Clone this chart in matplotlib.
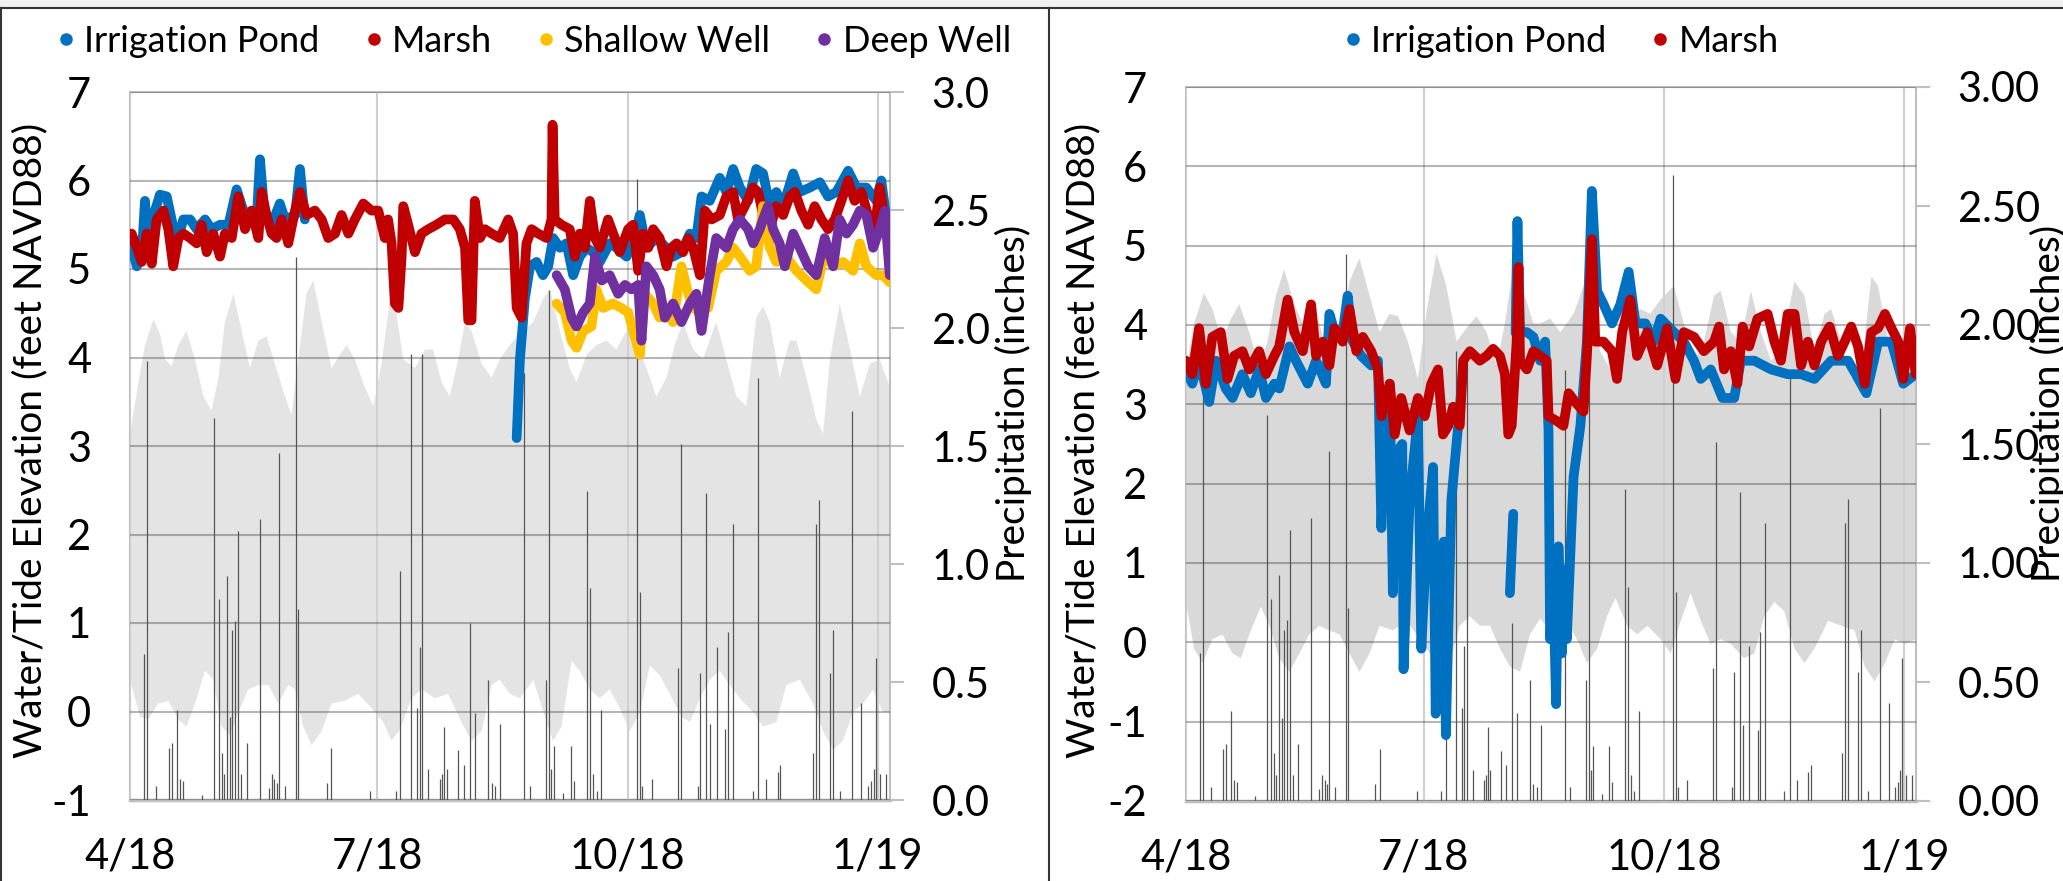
import numpy as np
import matplotlib
matplotlib.use('Agg')
import matplotlib.pyplot as plt
import matplotlib.dates as mdates
from matplotlib.lines import Line2D
from matplotlib.patches import Rectangle
from matplotlib.ticker import FixedLocator, FuncFormatter, FormatStrFormatter

plt.rcParams['font.family'] = ['Lato', 'DejaVu Sans']
plt.rcParams['axes.unicode_minus'] = False

# ---- data: x values are days since 2018-04-01 ----
START = '2018-04-01'
X_END = 279.5
MONTHS = ['2018-04-01', '2018-07-01', '2018-10-01', '2019-01-01']

# precipitation (inches), same gauge in both panels
rain_day = [5.3, 6.4, 9.4, 14.3, 15.3, 17.4, 18.4, 19.6, 26.6, 31.0, 32.7, 33.7, 34.6, 35.7,
            36.6, 37.6, 38.6, 39.8, 40.8, 42.9, 47.9, 51.1, 52.1, 53.1, 54.0, 54.9, 57.0,
            61.2, 61.9, 72.3, 74.1, 88.3, 97.7, 99.4, 103.5, 105.5, 106.5, 107.5, 109.7,
            114.0, 114.8, 115.6, 116.5, 120.7, 122.7, 124.9, 126.8, 131.7, 133.0, 134.2,
            136.0, 145.0, 147.1, 153.0, 154.2, 155.0, 155.9, 159.3, 162.1, 163.2, 168.1,
            169.1, 170.3, 171.6, 173.3, 186.6, 187.5, 188.4, 191.8, 201.6, 202.8, 208.9,
            209.8, 212.0, 213.2, 215.7, 219.0, 219.9, 221.8, 229.1, 231.1, 234.0, 238.3,
            239.2, 251.2, 252.4, 253.4, 257.3, 258.6, 261.2, 265.7, 269.0, 271.4, 272.6,
            273.5, 274.2, 275.7, 278.1]
rain_in = [0.62, 1.86, 0.06, 0.22, 0.24, 0.38, 0.09, 0.08, 0.02, 1.62, 0.85, 0.20, 0.11, 0.95,
           0.35, 0.72, 0.76, 1.14, 0.11, 0.24, 1.19, 0.05, 0.11, 0.09, 0.07, 1.47, 0.06,
           2.30, 0.81, 0.07, 0.22, 0.04, 0.04, 0.97, 1.89, 0.39, 0.65, 1.89, 0.13,
           0.09, 0.11, 0.31, 0.13, 0.21, 0.15, 0.75, 0.37, 0.51, 0.07, 0.06,
           0.32, 1.81, 0.06, 0.51, 2.16, 0.13, 0.23, 0.03, 0.23, 0.08, 1.31,
           0.90, 0.11, 0.04, 0.38, 2.63, 0.88, 0.06, 0.09, 0.56, 1.51, 0.06,
           0.54, 1.30, 0.32, 0.65, 0.30, 0.71, 1.17, 0.04, 1.79, 0.09, 0.12,
           0.15, 0.20, 1.17, 1.27, 0.54, 0.72, 0.04, 1.65, 0.41, 0.06, 0.08,
           0.13, 0.60, 0.11, 0.11]

# left panel: tide range envelope (high / low)
tideL_hi_day = [0.0, 3.1, 5.5, 8.6, 11.0, 12.9, 15.3, 17.8, 20.8, 23.9, 27.0, 30.0, 32.5, 34.9,
                38.0, 41.1, 44.1, 47.2, 50.2, 53.3, 57.0, 59.4, 61.9, 64.9, 67.4, 70.5, 74.1,
                77.2, 79.7, 82.7, 86.4, 89.5, 92.5, 95.6, 97.4, 100.5, 104.8, 108.5, 111.5,
                114.6, 117.6, 120.7, 123.2, 125.6, 129.3, 133.0, 136.0, 139.7, 143.4, 148.3,
                151.9, 154.4, 158.1, 161.7, 164.2, 167.9, 171.5, 175.2, 178.9, 182.6, 186.2,
                189.9, 193.6, 197.3, 200.3, 203.4, 207.1, 210.7, 215.6, 219.3, 223.0, 226.7,
                230.3, 232.8, 235.3, 238.9, 242.6, 245.1, 248.8, 252.4, 254.9, 257.4, 261.0,
                264.1, 268.4, 272.1, 275.7, 279.5]
tideL_hi = [3.14, 3.72, 4.14, 4.43, 4.27, 3.98, 3.90, 4.14, 4.30, 3.98, 3.56, 3.40, 3.77, 4.40,
            4.72, 4.30, 3.88, 4.19, 4.24, 3.93, 3.56, 3.35, 3.98, 4.72, 4.87, 4.40, 3.88,
            4.03, 4.14, 3.98, 3.66, 3.45, 3.93, 4.66, 4.61, 3.98, 3.88, 4.09, 4.09,
            3.72, 3.56, 3.98, 4.40, 4.30, 3.93, 3.77, 3.98, 4.14, 4.27, 4.40,
            4.66, 4.77, 4.30, 3.88, 3.72, 4.03, 4.14, 4.19, 4.09, 4.30, 4.19,
            3.88, 3.56, 3.77, 4.14, 4.40, 4.09, 3.98, 4.40, 3.98, 3.56, 3.45,
            4.45, 4.58, 4.40, 3.77, 4.19, 4.19, 3.77, 3.30, 3.14, 3.98, 4.61,
            4.19, 3.56, 3.93, 3.98, 3.66]
tideL_lo_day = [0.0, 3.7, 6.7, 10.4, 14.1, 17.8, 20.8, 23.9, 27.6, 30.6, 33.7, 36.8, 39.8, 43.5,
                47.2, 50.9, 54.5, 58.2, 60.7, 63.7, 66.8, 70.5, 74.1, 79.0, 83.9, 88.8, 93.1,
                96.2, 99.3, 103.5, 107.2, 112.1, 117.0, 121.9, 125.6, 129.3, 133.0, 136.0,
                139.7, 143.4, 148.3, 153.2, 155.6, 158.7, 162.4, 165.4, 169.1, 172.8, 176.4,
                180.1, 183.8, 187.5, 191.2, 194.8, 198.5, 202.8, 205.9, 209.6, 213.2, 216.9,
                220.6, 224.3, 229.2, 232.8, 237.7, 241.4, 246.3, 251.2, 254.9, 258.6, 262.2,
                265.9, 269.6, 273.3, 276.9, 279.5]
tideL_lo = [0.36, -0.06, -0.09, 0.09, 0.12, -0.09, -0.17, 0.09, 0.46, 0.36, -0.17, -0.27, -0.01, 0.25,
            0.30, 0.30, 0.09, 0.30, 0.25, -0.17, -0.38, -0.22, 0.09, 0.12, 0.20, 0.04, -0.12,
            -0.33, -0.20, 0.15, 0.25, 0.15, 0.20, -0.12, -0.33, -0.22, 0.30, 0.36,
            0.20, 0.15, 0.36, -0.12, -0.33, -0.17, 0.57, 0.46, 0.25, 0.15, 0.25,
            0.04, -0.22, -0.01, 0.52, 0.41, 0.20, -0.06, -0.12, 0.15, 0.36, 0.46,
            0.30, 0.15, -0.01, -0.17, -0.12, 0.30, 0.36, 0.09, -0.22, -0.43, -0.33,
            -0.01, 0.09, 0.25, -0.01, -0.01]

# left panel water levels (feet NAVD88); nan = no visible record
pondL_day = [0.6, 2.5, 4.3, 5.5, 6.7, 9.2, 11.0, 13.5, 15.3, 17.2, 19.6, 22.1, 24.5, 27.6, 30.0,
             33.1, 36.2, 39.2, 41.7, 44.7, 46.6, 47.8, 49.6, 52.1, 55.1, 57.0, 60.7, 62.5, 64.3,
             100.0,
             142.2, 143.4, 145.2, 147.1, 149.5, 151.9, 153.8, 155.6, 158.1, 160.5, 163.0, 165.4,
             167.9, 170.3, 172.8, 176.4, 178.9, 182.6, 185.0, 187.5, 189.9, 193.6, 197.3, 199.7,
             202.8, 205.9, 208.3, 210.2, 213.2, 216.9, 219.3, 221.8, 224.3, 227.3, 230.3, 232.8,
             235.3, 237.7, 240.2, 243.9, 246.3, 250.0, 253.7, 256.7, 259.8, 264.1, 267.2, 270.8,
             274.5, 276.3, 278.2, 279.4]
pondL = [5.24, 5.03, 5.14, 5.77, 5.29, 5.66, 5.84, 5.82, 5.56, 5.29, 5.56, 5.56, 5.45, 5.56, 5.45,
         5.50, 5.50, 5.90, 5.66, 5.61, 5.56, 6.24, 5.56, 5.50, 5.74, 5.56, 5.61, 6.13, 5.56,
         np.nan,
         3.09, 3.98, 4.66, 5.03, 5.08, 4.93, 5.03, 5.35, 5.24, 5.29, 4.93, 5.14,
         5.24, 5.19, 5.08, 5.29, 5.24, 5.14, 5.29, 5.61, 5.24, 5.35, 5.24, 5.14,
         5.19, 5.40, 5.35, 5.82, 5.77, 6.03, 5.87, 6.13, 5.92, 5.77, 6.13, 6.08,
         5.71, 5.87, 5.71, 6.08, 5.87, 5.92, 5.98, 5.82, 5.87, 6.11, 5.92, 5.92,
         5.77, 6.00, 5.56, 5.40]
marshL_day = [0.6, 2.5, 4.3, 6.1, 8.0, 9.8, 12.3, 14.1, 15.9, 17.8, 19.6, 22.1, 24.5, 26.3, 28.2,
              30.6, 33.1, 34.9, 37.4, 39.8, 42.3, 44.7, 47.2, 48.4, 50.2, 52.1, 53.9, 55.8, 58.2,
              60.7, 62.5, 64.9, 68.0, 70.5, 72.9, 75.4, 77.8, 80.3, 82.7, 85.8, 88.8, 91.3, 93.7,
              94.9, 96.2, 97.4, 98.7, 99.9, 100.5, 102.3, 104.8, 107.2, 109.7, 112.7, 115.8,
              118.9, 121.3, 123.2, 124.4, 125.6, 126.8, 128.7, 130.5, 133.0,
              136.0, 139.1, 140.9, 142.2, 144.0, 145.8, 147.7, 150.1, 153.2, 155.0, 155.4, 156.2,
              158.7, 161.7, 163.6, 165.4, 167.3, 169.1, 171.0, 172.8, 175.8, 178.3, 180.1, 183.2,
              185.0, 186.9, 188.7, 190.6, 192.4, 194.8, 197.3, 199.1, 201.0, 203.4, 205.3, 207.1,
              209.6, 211.4, 213.9, 216.9, 219.3, 221.8, 223.6, 226.1, 229.2, 231.0, 232.8, 235.3,
              237.7, 240.2, 242.6, 244.5, 246.9, 249.4, 251.8, 254.3, 256.7, 259.2, 261.6, 264.1,
              266.5, 269.0, 271.4, 273.9, 275.7, 277.6, 279.4]
marshL = [5.40, 5.24, 5.08, 5.40, 5.06, 5.56, 5.66, 5.45, 5.03, 5.35, 5.40, 5.35, 5.29, 5.50, 5.19,
          5.40, 5.14, 5.40, 5.35, 5.82, 5.45, 5.66, 5.35, 5.87, 5.61, 5.40, 5.35, 5.56, 5.29,
          5.66, 5.87, 5.61, 5.66, 5.56, 5.35, 5.40, 5.61, 5.40, 5.56, 5.74, 5.66, 5.66, 5.35,
          5.56, 5.29, 4.61, 4.56, 5.14, 5.71, 5.50, 5.19, 5.40, 5.45, 5.50, 5.56,
          5.56, 5.45, 5.24, 4.42, 4.42, 5.77, 5.35, 5.45, 5.40,
          5.35, 5.56, 5.40, 4.56, 4.45, 5.29, 5.45, 5.40, 5.35, 5.56, 6.63, 5.56,
          5.50, 5.45, 5.14, 5.40, 5.24, 5.77, 5.35, 5.24, 5.56, 5.35, 5.19, 5.45,
          5.50, 4.98, 5.40, 5.24, 5.45, 5.35, 5.03, 5.24, 5.29, 5.19, 5.35, 5.24,
          4.93, 5.66, 5.56, 5.61, 5.82, 5.87, 5.56, 5.71, 5.92, 5.87, 5.61, 5.45,
          5.71, 5.61, 5.82, 5.87, 5.66, 5.50, 5.71, 5.56, 5.45, 5.56, 5.77, 6.00,
          5.77, 5.87, 5.61, 5.45, 5.92, 5.56, 5.35]
shallow_day = [156.9, 159.9, 162.4, 164.2, 166.7, 169.7, 171.5, 174.0, 177.6, 180.7, 183.2, 185.6,
               187.5, 189.3, 192.4, 194.8, 197.3, 199.7, 202.8, 205.3, 207.1, 209.6, 212.6, 215.6,
               219.3, 221.8, 224.3, 227.9, 230.3, 232.8, 235.3, 237.7, 241.4, 245.1, 248.8, 252.4,
               255.5, 258.6, 262.2, 265.9, 268.4, 270.8, 274.5, 276.9, 279.4]
shallow = [4.61, 4.51, 4.19, 4.11, 4.30, 4.35, 4.77, 4.56, 4.61, 4.56, 4.51, 4.24,
           4.03, 4.72, 4.61, 4.45, 4.51, 4.40, 5.03, 4.72, 4.56, 4.51, 4.56, 4.98,
           5.08, 5.24, 5.14, 4.98, 5.03, 5.71, 5.24, 5.08, 5.14, 4.98, 4.87, 4.77,
           5.19, 5.03, 5.08, 4.98, 5.29, 5.03, 4.93, 4.93, 4.85]
deep_day = [156.9, 159.9, 162.4, 164.2, 166.7, 169.1, 171.0, 173.5, 176.4, 179.5, 182.0, 184.4,
            186.9, 188.1, 189.9, 192.4, 194.8, 196.7, 199.7, 202.8, 205.9, 208.3, 210.2, 213.2,
            215.6, 219.3, 221.8, 224.3, 227.3, 229.2, 231.6, 232.8, 234.6, 236.5, 238.9, 240.8,
            243.9, 246.3, 249.4, 252.4, 255.5, 258.6, 261.0, 263.5, 265.9, 268.4, 270.8, 273.3,
            275.7, 277.6, 279.4]
deep = [4.93, 4.77, 4.45, 4.35, 4.51, 4.61, 5.14, 4.87, 4.93, 4.72, 4.82, 4.77,
        4.82, 4.19, 5.03, 4.93, 4.77, 4.45, 4.61, 4.40, 4.61, 4.72, 4.30, 4.93,
        5.35, 5.24, 5.45, 5.56, 5.45, 5.29, 5.45, 5.56, 5.71, 5.45, 5.29, 5.03,
        5.40, 5.24, 5.03, 4.93, 5.35, 5.03, 5.56, 5.40, 5.50, 5.66, 5.61, 5.24,
        5.45, 5.66, 4.93]

# right panel: tide range envelope
tideR_hi_day = [0.0, 3.1, 6.9, 10.1, 14.0, 17.2, 20.4, 24.2, 28.0, 31.2, 34.4, 37.6, 41.5, 44.7,
                47.9, 51.1, 54.9, 58.8, 62.6, 66.4, 70.3, 74.1, 77.9, 81.2, 85.0, 88.8, 92.0,
                95.9, 99.7, 103.6, 107.4, 111.2, 115.1, 118.9, 122.1, 125.3, 129.2, 133.0,
                135.6, 139.4, 143.3, 148.4, 152.2, 154.8, 158.6, 162.4, 166.3, 170.1, 174.0,
                177.8, 181.7, 184.9, 186.8, 190.6, 194.5, 198.3, 202.2, 204.7, 208.6, 212.4,
                216.3, 220.1, 224.0, 227.8, 232.9, 236.8, 240.6, 244.5, 247.0, 250.9, 254.7,
                258.6, 262.4, 265.0, 268.9, 272.7, 276.6, 279.5]
tideR_hi = [3.44, 4.02, 4.40, 4.20, 3.79, 4.08, 4.26, 3.91, 3.49, 3.79, 4.37, 4.70, 4.26, 4.02,
            4.20, 4.02, 3.55, 3.79, 4.55, 4.84, 4.37, 3.91, 4.14, 4.11, 3.79, 3.32, 4.14,
            4.90, 4.49, 3.79, 3.96, 4.11, 3.91, 3.49, 4.02, 4.73, 4.43, 4.02,
            4.02, 4.08, 3.91, 4.14, 4.49, 4.32, 3.67, 3.44, 3.79, 4.02, 4.20,
            4.14, 4.32, 4.43, 4.49, 4.02, 3.55, 3.79, 4.37, 4.43, 3.91, 3.79,
            4.43, 3.91, 3.55, 3.67, 4.55, 4.37, 3.67, 4.14, 4.20, 3.79, 3.32,
            3.44, 4.61, 4.49, 3.79, 3.79, 3.55, 3.32]
tideR_lo_day = [0.0, 3.1, 6.3, 10.1, 14.0, 17.8, 21.0, 24.8, 28.7, 31.9, 35.7, 39.6, 43.4, 47.2,
                51.1, 54.9, 58.8, 62.6, 66.4, 70.3, 74.1, 79.2, 84.4, 89.5, 93.3, 97.2, 101.0,
                104.8, 108.7, 112.5, 116.4, 120.2, 124.1, 127.9, 131.7,
                135.6, 139.4, 144.5, 149.7, 153.5, 157.4, 161.2, 164.4, 168.9, 172.8, 176.6,
                181.7, 185.6, 189.4, 193.2, 197.1, 200.9, 204.7, 208.6, 213.7, 217.6, 221.4,
                225.3, 229.1, 233.0, 236.8, 240.6, 245.8, 250.9, 256.0, 259.9, 263.7, 267.6,
                271.4, 275.3, 279.5]
tideR_lo = [0.51, -0.08, -0.26, 0.04, 0.10, -0.14, -0.20, 0.15, 0.45, 0.21, -0.20, -0.37, -0.14, 0.10,
            0.21, 0.15, 0.10, -0.14, -0.37, -0.14, 0.21, 0.15, 0.27, 0.04, -0.14, -0.37, -0.26,
            0.21, 0.33, 0.21, 0.21, -0.08, -0.31, -0.37, 0.10,
            0.30, 0.15, 0.33, 0.04, -0.26, -0.08, 0.33, 0.56, 0.21, 0.10, 0.21,
            0.04, -0.14, 0.27, 0.62, 0.27, -0.02, 0.04, -0.02, -0.20, -0.14, 0.33,
            0.51, 0.39, -0.08, -0.26, -0.08, 0.27, 0.21, 0.15, -0.31, -0.49, -0.26,
            0.04, -0.02, 0.04]

# right panel water levels
pondR_day = [0.0, 2.4, 5.0, 8.9, 11.5, 15.2, 17.8, 21.6, 24.8, 28.0, 30.6, 33.8, 35.7, 39.6, 42.1,
             46.6, 49.8, 53.6, 54.9, 57.5, 60.0, 61.9, 63.9, 67.1, 70.9, 73.5, 74.8, 76.0, 78.0,
             79.2, 80.5, 82.8, 83.3, 85.6, 88.8, 90.1, 92.0, 94.6, 95.6, 97.2, 98.7, 99.5, 101.6,
             104.2, 106.1,
             115.0,
             124.0, 125.3,
             125.6,
             126.2, 126.9, 127.9, 130.5, 133.0, 135.6, 137.5, 138.8, 139.4, 140.7, 141.7, 142.6,
             143.9, 144.5, 145.8, 148.4, 151.0, 153.5, 155.4, 157.4, 159.9, 163.1, 166.3, 169.5,
             172.1, 175.9, 179.1, 181.7, 186.8, 190.6, 194.5, 197.1, 200.9, 205.4, 209.9, 212.4,
             217.6, 224.0, 230.4, 235.5, 240.6, 247.0, 253.5, 260.5, 265.0, 270.1, 274.6, 279.4]
pondR = [3.44, 3.26, 3.55, 3.03, 3.55, 3.20, 3.08, 3.38, 3.14, 3.44, 3.08, 3.26, 3.20, 3.73, 3.55,
         3.26, 3.55, 3.26, 4.14, 3.85, 3.91, 4.37, 3.79, 3.61, 3.49, 3.55, 1.44, 2.62, 3.26,
         0.62, 2.39, 2.50, -0.34, 1.79, 2.85, -0.08, 1.21, 2.21, -0.90, 0.62, 1.27, -1.17, 1.79,
         2.73, 3.44,
         np.nan,
         0.62, 1.62,
         np.nan,
         3.90, 5.31, 3.91, 3.91, 3.85, 3.55, 3.79, 2.67, 0.04, 0.62, -0.78, 1.21,
         -0.14, 0.92, 0.04, 2.09, 2.73, 3.79, 5.69, 4.43, 4.26, 4.02, 4.26, 4.67,
         4.02, 4.02, 3.79, 4.08, 3.91, 3.79, 3.55, 3.32, 3.44, 3.08, 3.08, 3.55,
         3.55, 3.44, 3.38, 3.38, 3.32, 3.55, 3.55, 3.14, 3.79, 3.79, 3.26, 3.38]
marshR_day = [0.0, 2.4, 5.0, 7.6, 10.1, 13.3, 15.9, 18.4, 21.6, 24.2, 28.0, 30.6, 33.8, 35.7, 38.9,
              41.5, 44.7, 47.9, 49.8, 52.4, 54.9, 56.8, 60.0, 62.6, 65.2, 67.7, 70.9, 73.5, 74.8,
              78.0, 79.9, 82.4, 85.6, 88.8, 91.4, 93.9, 96.5, 98.4, 100.4, 102.3, 104.8, 106.1,
              108.7, 112.5, 115.1, 117.6, 120.2, 122.1, 123.4, 124.7, 126.6, 127.3, 127.9, 130.5,
              133.0,
              135.6, 138.1, 138.8, 142.0, 144.5, 146.5, 149.0, 152.2, 153.5, 155.4, 156.7, 159.9,
              163.1, 165.0, 167.0, 170.1, 172.7, 176.6, 180.4, 184.2, 187.4, 190.6, 194.5, 198.3,
              202.2, 204.1, 206.0, 208.6, 211.1, 213.1, 215.6, 218.8, 222.7, 225.3, 227.8, 230.4,
              233.0, 235.5, 238.1, 240.6, 243.2, 246.4, 249.6, 252.2, 254.7, 257.3, 259.9, 262.4,
              265.0, 267.6, 270.1, 272.7, 274.6, 277.2, 279.4]
marshR = [3.55, 3.38, 3.96, 3.26, 3.85, 3.91, 3.32, 3.61, 3.67, 3.44, 3.67, 3.38, 3.61, 3.73, 4.32,
          3.91, 3.67, 4.26, 3.61, 3.79, 3.49, 3.96, 3.79, 4.20, 3.67, 3.85, 3.67, 3.44, 2.85,
          3.26, 2.62, 3.08, 2.67, 3.08, 2.85, 3.26, 3.44, 2.62, 2.73, 2.97, 2.73, 3.55,
          3.67, 3.55, 3.61, 3.70, 3.61, 3.38, 2.62, 2.73, 3.79, 4.73, 3.55, 3.44,
          3.67,
          3.61, 3.55, 2.85, 2.79, 2.73, 3.14, 3.03, 2.91, 3.61, 5.08, 3.79, 3.79,
          3.67, 3.32, 3.91, 4.32, 3.61, 3.91, 3.49, 3.96, 3.32, 3.91, 3.85, 3.67,
          3.79, 3.98, 3.44, 3.67, 3.26, 3.98, 3.73, 4.08, 4.14, 3.79, 3.55, 4.14,
          4.14, 3.49, 3.79, 3.49, 3.79, 3.98, 3.61, 3.79, 3.98, 3.73, 3.26, 3.91,
          3.96, 4.14, 3.96, 3.79, 3.32, 3.96, 3.38]

BLUE, RED, YELLOW, PURPLE = '#0070C0', '#C00000', '#FFC000', '#7030A0'
W, H = 2063, 881


def d2n(days):
    return mdates.date2num(np.datetime64(START)) + np.asarray(days, dtype=float)


def draw_panel(px, ylim, band_color, hi_d, hi, lo_d, lo, series, pfmt):
    x0, y0, x1, y1 = px
    rect = [x0 / W, 1 - y1 / H, (x1 - x0) / W, (y1 - y0) / H]
    ax = fig.add_axes(rect, zorder=1)
    axp = fig.add_axes(rect, zorder=2, facecolor='none')
    axs = fig.add_axes(rect, zorder=3, facecolor='none')

    # tide range band
    bx = np.concatenate([d2n(hi_d), d2n(lo_d)[::-1]])
    by = np.concatenate([hi, np.asarray(lo)[::-1]])
    ax.fill(bx, by, color=band_color, lw=0, zorder=0.5)

    xl = (d2n(0)[()], d2n(X_END)[()])
    ticks = [mdates.date2num(np.datetime64(m)) for m in MONTHS]
    for a in (ax, axp, axs):
        a.set_xlim(*xl)
    ax.set_ylim(*ylim)
    axs.set_ylim(*ylim)
    ax.set_yticks(np.arange(ylim[0], ylim[1] + 1))
    ax.xaxis.set_major_locator(FixedLocator(ticks))
    ax.xaxis.set_major_formatter(FuncFormatter(
        lambda v, p: f"{mdates.num2date(v).month}/{mdates.num2date(v):%y}"))
    ax.set_axisbelow(False)
    ax.grid(axis='y', color='#404040', alpha=0.38, lw=1.5)
    ax.grid(axis='x', color='#d0d0d0', lw=1.5)
    ax.tick_params(length=0, labelsize=30, colors='black')
    ax.tick_params(axis='y', pad=28)
    ax.tick_params(axis='x', pad=27)
    for s in ax.spines.values():
        s.set_color('#bfbfbf')
        s.set_linewidth(1.5)
    ax.spines['bottom'].set_linewidth(2.5)

    # precipitation
    axp.vlines(d2n(rain_day), 0, rain_in, color='#555555', lw=0.9)
    axp.set_ylim(0, 3)
    axp.set_yticks(np.arange(0, 3.01, 0.5))
    axp.yaxis.set_major_formatter(FormatStrFormatter(pfmt))
    axp.yaxis.tick_right()
    axp.tick_params(axis='y', length=10, width=1.5, color='#bfbfbf', labelsize=30, pad=20)
    axp.xaxis.set_visible(False)
    for s in axp.spines.values():
        s.set_visible(False)

    # water level series
    for d, v, c in series:
        axs.plot(d2n(d), v, color=c, lw=7, solid_capstyle='round', solid_joinstyle='round')
    axs.axis('off')
    return ax


fig = plt.figure(figsize=(W / 100, H / 100), dpi=100)

draw_panel((130, 92, 890, 800), (-1, 7), '#e4e4e4',
           tideL_hi_day, tideL_hi, tideL_lo_day, tideL_lo,
           [(pondL_day, pondL, BLUE), (marshL_day, marshL, RED),
            (shallow_day, shallow, YELLOW), (deep_day, deep, PURPLE)], '%.1f')
draw_panel((1186, 87, 1916, 801), (-2, 7), '#d9d9d9',
           tideR_hi_day, tideR_hi, tideR_lo_day, tideR_lo,
           [(pondR_day, pondR, BLUE), (marshR_day, marshR, RED)], '%.2f')

# axis titles
ylab = 'Water/Tide Elevation (feet NAVD88)'
plab = 'Precipitation (inches)'
fig.text(30 / W, 1 - 440 / H, ylab, rotation=90, ha='center', va='center', fontsize=28)
fig.text(1013 / W, 1 - 403 / H, plab, rotation=90, ha='center', va='center', fontsize=28)
fig.text(1083 / W, 1 - 440 / H, ylab, rotation=90, ha='center', va='center', fontsize=28)
fig.text(2048 / W, 1 - 403 / H, plab, rotation=90, ha='center', va='center', fontsize=28)

# legends
def legend(items, cx):
    handles = [Line2D([], [], ls='none', marker='o', markersize=8, color=c) for _, c in items]
    fig.legend(handles, [n for n, _ in items], loc='center', bbox_to_anchor=(cx / W, 1 - 41 / H),
               ncol=len(items), frameon=False, fontsize=26, handlelength=0.4,
               handletextpad=0.3, columnspacing=1.3, borderpad=0)

legend([('Irrigation Pond', BLUE), ('Marsh', RED), ('Shallow Well', YELLOW),
        ('Deep Well', PURPLE)], 535)
legend([('Irrigation Pond', BLUE), ('Marsh', RED)], 1562)

# outer frame
fig.add_artist(Rectangle((0, 1 - 7 / H), 1, 7 / H, transform=fig.transFigure,
                         color='#f0f0f0', lw=0))
fig.add_artist(Line2D([0, 1], [1 - 8 / H] * 2, transform=fig.transFigure, color='#333333', lw=1.5))
fig.add_artist(Line2D([0.5 / W] * 2, [0, 1 - 8 / H], transform=fig.transFigure, color='#333333', lw=1.5))
fig.add_artist(Line2D([1049 / W] * 2, [0, 1 - 8 / H], transform=fig.transFigure, color='#333333', lw=1.5))

fig.savefig('out.png', dpi=100)
